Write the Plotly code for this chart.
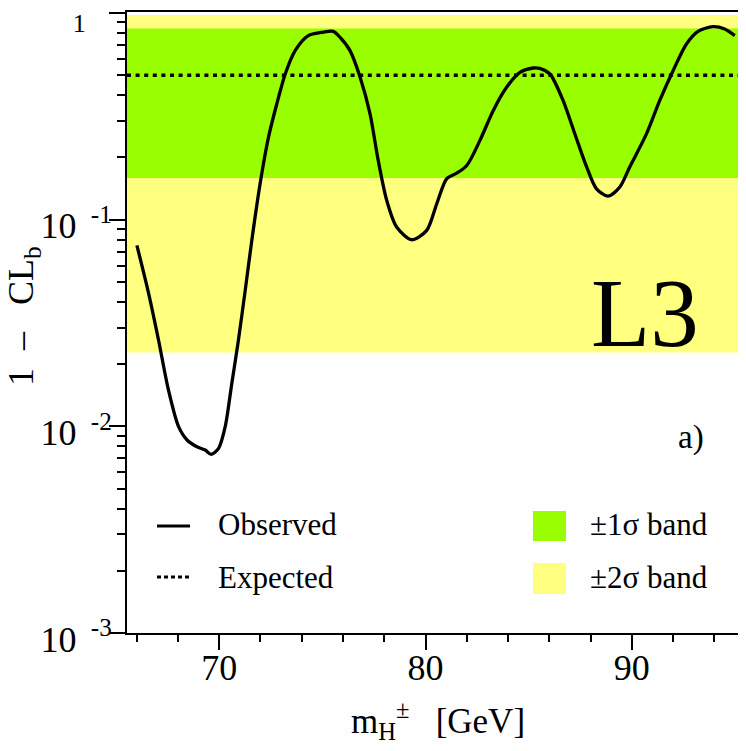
import plotly.graph_objects as go

# ---- data ----
mass = [66.01, 66.58, 67.06, 67.54, 68.03, 68.44, 68.92, 69.32, 69.61, 69.97,
        70.29, 70.61, 70.93, 71.26, 71.58, 71.98, 72.39, 72.79, 73.20, 73.68,
        74.32, 74.97, 75.53, 75.86, 76.34, 76.83, 77.31, 77.71, 78.12, 78.60,
        79.33, 80.06, 80.54, 81.03, 81.51, 82.00, 82.64, 83.28, 83.93, 84.58,
        85.22, 85.54, 86.03, 86.67, 87.24, 87.81, 88.29, 88.85, 89.42, 89.90,
        90.71, 91.35, 92.00, 92.65, 93.21, 93.94, 94.50, 94.99]
observed = [0.0751, 0.0439, 0.0261, 0.01497, 0.00996, 0.00859, 0.00797, 0.00768, 0.00732, 0.00783,
            0.00996, 0.01614, 0.0261, 0.0455, 0.0794, 0.149, 0.251, 0.363, 0.507, 0.658,
            0.777, 0.806, 0.815, 0.762, 0.658, 0.489, 0.325, 0.193, 0.124, 0.0921,
            0.080, 0.0888, 0.119, 0.158, 0.168, 0.183, 0.242, 0.337, 0.437, 0.516,
            0.542, 0.540, 0.507, 0.377, 0.260, 0.180, 0.141, 0.130, 0.144, 0.180,
            0.260, 0.377, 0.526, 0.708, 0.815, 0.859, 0.837, 0.777]
expected = 0.5
band1 = [0.159, 0.841]     # +-1 sigma
band2 = [0.0228, 0.977]    # +-2 sigma

x_range = [65.53, 95.39]
x_major = [70, 80, 90]
y_major = [0.001, 0.01, 0.1, 1]
SP = "\u2009\u2009"
y_ticktext = ["10" + SP + "<sup>-3</sup>", "10" + SP + "<sup>-2</sup>", "10" + SP + "<sup>-1</sup>",
              "<span style='font-size:26px'>1" + "\u00a0" * 4 + "</span>"]
y_minor = [k * 10.0 ** e for e in (-3, -2, -1) for k in range(2, 10)]

GREEN = "#99ff00"
YELLOW = "#ffff80"
FONT = "Liberation Serif"

fig = go.Figure()

# bands
fig.add_trace(go.Scatter(
    x=[x_range[0], x_range[1], x_range[1], x_range[0]],
    y=[band2[0], band2[0], band2[1], band2[1]],
    fill="toself", fillcolor=YELLOW, line=dict(width=0), mode="lines",
    hoverinfo="skip", showlegend=False))
fig.add_trace(go.Scatter(
    x=[x_range[0], x_range[1], x_range[1], x_range[0]],
    y=[band1[0], band1[0], band1[1], band1[1]],
    fill="toself", fillcolor=GREEN, line=dict(width=0), mode="lines",
    hoverinfo="skip", showlegend=False))

# expected
fig.add_trace(go.Scatter(
    x=x_range, y=[expected, expected], mode="lines",
    line=dict(color="black", width=3.5, dash="4px,4.6px"), showlegend=False))

# observed
fig.add_trace(go.Scatter(
    x=mass, y=observed, mode="lines",
    line=dict(color="black", width=3.3, shape="spline", smoothing=0.8),
    showlegend=False))

# page body has an 8px default margin: size the figure so the plot area lands
# at x 127..743, y 12..633 of the window
fig.update_layout(
    width=738, height=743,
    margin=dict(l=119, r=3, t=4, b=118, autoexpand=False),
    paper_bgcolor="white", plot_bgcolor="white",
    font=dict(family=FONT, color="black"),
    showlegend=False,
)

fig.update_xaxes(
    range=x_range, showgrid=False, zeroline=False, automargin=False,
    showline=True, linecolor="black", linewidth=2, mirror=True,
    ticks="outside", ticklen=15, tickwidth=1.5, tickcolor="black",
    tickvals=x_major, tickfont=dict(size=36, family=FONT),
    ticklabelstandoff=-13, ticklabeloverflow="allow",
    minor=dict(ticks="outside", ticklen=7, tickwidth=1.5, tickcolor="black", dtick=2, tick0=0),
)
fig.update_yaxes(
    type="log", range=[-3, 0.005], showgrid=False, zeroline=False, automargin=False,
    showline=True, linecolor="black", linewidth=2, mirror=True,
    ticks="outside", ticklen=16, tickwidth=1.5, tickcolor="black",
    tickvals=y_major, ticktext=y_ticktext, tickfont=dict(size=36, family=FONT),
    ticklabelstandoff=-10, ticklabelshift=6, ticklabeloverflow="allow",
    minor=dict(ticks="outside", ticklen=8, tickwidth=1.5, tickcolor="black", tickvals=y_minor),
)

# helpers: window pixel -> paper
def px_x(p):
    return (p - 127) / 616.0

def px_y(p):
    return 1 - (p - 12) / 621.0

# axis titles
fig.add_annotation(x=px_x(24), y=px_y(316), xref="paper", yref="paper",
                   text="1\u00a0\u00a0–\u00a0\u00a0\u00a0CL<sub>b</sub>", showarrow=False, textangle=-90,
                   xanchor="center", yanchor="middle",
                   font=dict(size=36, family=FONT, color="black"))
fig.add_annotation(x=px_x(438), y=px_y(720), xref="paper", yref="paper",
                   text="m<sub>H</sub><sup>±</sup>   [GeV]", showarrow=False,
                   xanchor="center", yanchor="middle",
                   font=dict(size=35, family=FONT, color="black"))

# big labels
fig.add_annotation(x=px_x(701), y=px_y(314), xref="paper", yref="paper", text="L3",
                   showarrow=False, xanchor="right", yanchor="middle",
                   font=dict(size=97, family=FONT, color="black"))
fig.add_annotation(x=px_x(706), y=px_y(437), xref="paper", yref="paper", text="a)",
                   showarrow=False, xanchor="right", yanchor="middle",
                   font=dict(size=33, family=FONT, color="black"))

# manual legend
fig.add_shape(type="line", xref="paper", yref="paper",
              x0=px_x(157), x1=px_x(190), y0=px_y(526), y1=px_y(526),
              line=dict(color="black", width=3))
fig.add_shape(type="line", xref="paper", yref="paper",
              x0=px_x(157), x1=px_x(189), y0=px_y(577), y1=px_y(577),
              line=dict(color="black", width=3, dash="4px,3px"))
fig.add_shape(type="rect", xref="paper", yref="paper",
              x0=px_x(533), x1=px_x(566), y0=px_y(511), y1=px_y(541),
              fillcolor=GREEN, line=dict(width=0))
fig.add_shape(type="rect", xref="paper", yref="paper",
              x0=px_x(533), x1=px_x(566), y0=px_y(563), y1=px_y(594),
              fillcolor=YELLOW, line=dict(width=0))
legend_items = [("Observed", 216, 524), ("Expected", 216, 577),
                ("±1σ band", 588, 524), ("±2σ band", 588, 577)]
for txt, lx, ly in legend_items:
    fig.add_annotation(x=px_x(lx), y=px_y(ly), xref="paper", yref="paper", text=txt,
                       showarrow=False, xanchor="left", yanchor="middle",
                       font=dict(size=31, family=FONT, color="black"))

fig.write_html("out.html")
